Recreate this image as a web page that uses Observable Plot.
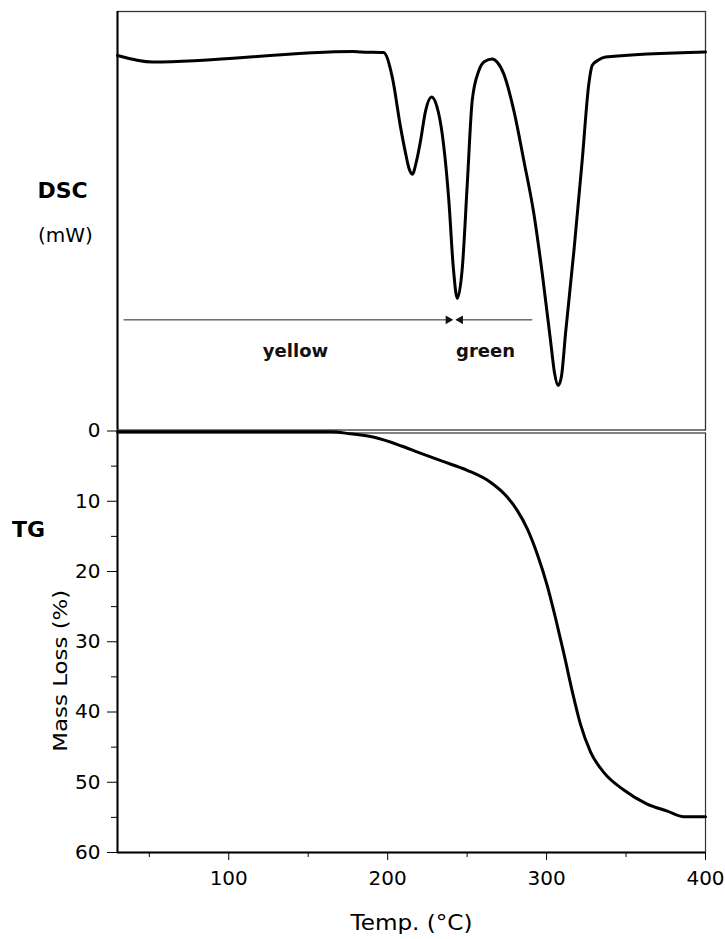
<!DOCTYPE html>
<html>
<head>
<meta charset="utf-8">
<script src="https://cdn.jsdelivr.net/npm/d3@7"></script>
<script src="https://cdn.jsdelivr.net/npm/@observablehq/plot@0.6"></script>
<style>
  html, body { margin: 0; padding: 0; background: #fff; }
  #fig { position: relative; width: 725px; height: 939px; overflow: hidden; background: #fff; }
  #fig svg { position: absolute; left: 0; }
</style>
</head>
<body>
<div id="fig"></div>
<script>
// ---- data ----
const xDomain = [30, 400];
const dscDomain = [-7.54, 0.82];
const tgDomain = [0, 60];

const dscTemp = [30, 52.0, 178.5, 183, 197.4, 202.9, 208.1, 211.2, 213.5, 215.5, 218.2, 220.7, 223.9, 227.6, 230.8, 234.3, 238.5, 241.3, 243.8, 247.0, 250.1, 253.2, 257.4, 261.0, 265.8, 269.1, 273.1, 279.4, 285.7, 292.0, 297.3, 302.5, 305.0, 307.3, 309.4, 311.9, 317.2, 322.4, 326.6, 328.7, 332.1, 337.1, 400];
const dscFlow = [-0.06, -0.19, 0.02, 0.01, 0.00, -0.49, -1.49, -2.00, -2.32, -2.43, -2.16, -1.76, -1.16, -0.89, -1.06, -1.62, -2.96, -4.29, -4.91, -4.29, -2.62, -0.96, -0.36, -0.18, -0.13, -0.20, -0.43, -1.16, -2.16, -3.22, -4.42, -5.76, -6.40, -6.65, -6.46, -5.62, -3.96, -2.16, -0.62, -0.26, -0.16, -0.09, 0.01];

const tgTemp = [30, 82.2, 145.2, 164.0, 176.6, 191.5, 208.3, 218.8, 234.3, 250.1, 264.7, 275.2, 281.5, 287.8, 294.1, 300.4, 305.6, 310.9, 316.2, 321.4, 327.7, 336.0, 348.6, 363.3, 376.0, 386.4, 400];
const tgLoss = [0.1, 0.1, 0.1, 0.1, 0.4, 0.9, 2.1, 3.0, 4.3, 5.6, 7.3, 9.4, 11.3, 13.9, 17.5, 22.0, 26.6, 31.7, 37.1, 41.8, 45.7, 48.6, 51.1, 53.1, 54.1, 54.9, 54.9];

const xMajorTicks = [100, 200, 300, 400];
const xMinorTicks = [50, 150, 250, 350];
const yMajorTicks = [0, 10, 20, 30, 40, 50, 60];
const yMinorTicks = [5, 15, 25, 35, 45, 55];

const arrowFrom = [33.8, 291.0];
const arrowTo = [240.6, 243.3];
const arrowLevel = -5.34;
const phaseNames = ["yellow", "green"];
const phaseTemp = [142, 261.6];
const phaseLevel = -5.96;

// ---- tables ----
const dsc = dscTemp.map((t, i) => ({t, v: dscFlow[i]}));
const tg = tgTemp.map((t, i) => ({t, v: tgLoss[i]}));
const arrows = arrowFrom.map((x1, i) => ({x1, x2: arrowTo[i], y: arrowLevel}));
const phases = phaseNames.map((name, i) => ({name, t: phaseTemp[i], v: phaseLevel}));
const rightArrows = arrows.filter(d => d.x2 > d.x1);
const leftArrows = arrows.filter(d => d.x2 < d.x1);

const baseStyle = {background: "transparent", fontFamily: "'DejaVu Sans', sans-serif", fontSize: "20px", color: "#000", overflow: "visible"};

const dscPlot = Plot.plot({
  width: 725, height: 432,
  marginLeft: 117, marginRight: 20, marginTop: 11, marginBottom: 2.5,
  x: {domain: xDomain, axis: null},
  y: {domain: dscDomain, axis: null},
  style: baseStyle,
  marks: [
    Plot.frame({stroke: "#333", strokeWidth: 1.3}),
    Plot.ruleX([xDomain[0]], {stroke: "#000", strokeWidth: 2}),
    Plot.line(dsc, {x: "t", y: "v", curve: "monotone-x", stroke: "#000", strokeWidth: 3}),
    Plot.link(arrows, {x1: "x1", x2: "x2", y1: "y", y2: "y", stroke: "#222", strokeWidth: 1}),
    Plot.dot(rightArrows, {x: "x2", y: "y", symbol: "triangle", r: 3.2, dx: -4, fill: "#111", stroke: null, rotate: 90}),
    Plot.dot(leftArrows, {x: "x2", y: "y", symbol: "triangle", r: 3.2, dx: 4, fill: "#111", stroke: null, rotate: -90}),
    Plot.text(phases, {x: "t", y: "v", text: "name", fontWeight: "bold", fontSize: 18, fill: "#111"}),
    Plot.text(["DSC"], {text: d => d, frameAnchor: "left", textAnchor: "middle", dx: -55, dy: -30, fontWeight: "bold", fontSize: 22}),
    Plot.text(["(mW)"], {text: d => d, frameAnchor: "left", textAnchor: "middle", dx: -52, dy: 15, fontSize: 20})
  ]
});
dscPlot.style.top = "0px";

const tgPlot = Plot.plot({
  width: 725, height: 519,
  marginLeft: 117, marginRight: 20, marginTop: 10.5, marginBottom: 87,
  x: {domain: xDomain},
  y: {domain: tgDomain, reverse: true},
  style: baseStyle,
  marks: [
    Plot.frame({stroke: "#333", strokeWidth: 1.2, insetTop: 2}),
    Plot.ruleX([xDomain[0]], {stroke: "#000", strokeWidth: 2}),
    Plot.ruleY([tgDomain[1]], {stroke: "#000", strokeWidth: 2}),
    Plot.axisX({ticks: xMajorTicks, tickSize: 8, tickPadding: 10, fontSize: 20, label: null, tickFormat: d => d}),
    Plot.axisX({ticks: xMinorTicks, tickSize: 5, tickFormat: () => "", label: null}),
    Plot.axisY({ticks: yMajorTicks, tickSize: 10, tickPadding: 7, fontSize: 20, label: null, tickFormat: d => d}),
    Plot.axisY({ticks: yMinorTicks, tickSize: 6, tickFormat: () => "", label: null}),
    Plot.line(tg, {x: "t", y: "v", curve: "monotone-x", stroke: "#000", strokeWidth: 3}),
    Plot.text(["TG"], {text: d => d, frameAnchor: "left", textAnchor: "middle", dx: -89, dy: -112, fontWeight: "bold", fontSize: 22}),
    Plot.text(["Mass Loss (%)"], {text: d => d, frameAnchor: "left", textAnchor: "middle", rotate: -90, dx: -57, dy: 29, fontSize: 20}),
    Plot.text(["Temp. (°C)"], {text: d => d, frameAnchor: "bottom", textAnchor: "middle", dy: 77, fontSize: 22})
  ]
});
tgPlot.style.top = "420px";

const fig = document.getElementById("fig");
fig.appendChild(dscPlot);
fig.appendChild(tgPlot);

// stretch the wide axis titles to match the reference lettering
const stretch = {"Mass Loss (%)": 162, "Temp. (°C)": 122};
d3.select(tgPlot).selectAll("text").each(function() {
  const w = stretch[this.textContent];
  if (w) d3.select(this).attr("textLength", w).attr("lengthAdjust", "spacingAndGlyphs");
});
</script>
</body>
</html>
